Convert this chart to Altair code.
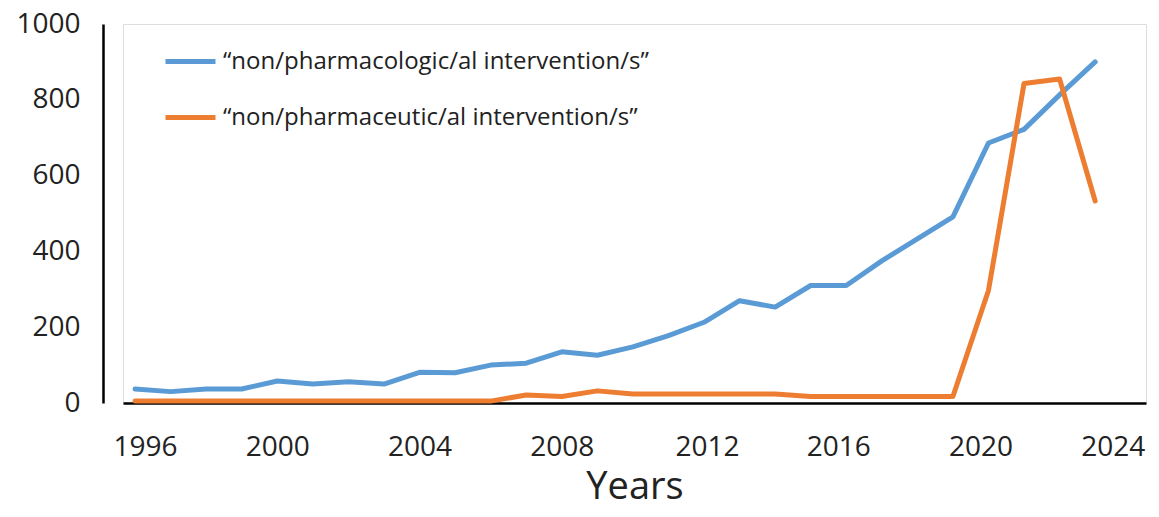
import altair as alt
import pandas as pd

years = list(range(1996, 2024))
pharmacologic = [37, 30, 37, 37, 58, 50, 56, 50, 81, 80, 100, 105, 135, 126, 148, 178,
                 213, 270, 253, 310, 310, 375, 433, 491, 686, 722, 813, 900]
pharmaceutic = [5, 5, 5, 5, 5, 5, 5, 5, 5, 5, 5, 21, 17, 32, 24, 24,
                24, 24, 24, 17, 17, 17, 17, 17, 297, 843, 855, 533]

s1 = "\u201cnon/pharmacologic/al intervention/s\u201d"
s2 = "\u201cnon/pharmaceutic/al intervention/s\u201d"
series_names = [s1, s2]
colors = ["#5B9BD5", "#ED7D31"]
x_ticks = [1996, 2000, 2004, 2008, 2012, 2016, 2020, 2024]
y_ticks = [0, 200, 400, 600, 800, 1000]

rows = []
for name, vals in zip(series_names, [pharmacologic, pharmaceutic]):
    for y, v in zip(years, vals):
        rows.append({"Year": y, "Count": v, "Series": name})
df = pd.DataFrame(rows)

font = "Open Sans"

label_shift = alt.ExprRef(
    "datum.value == 1996 ? 10 : datum.value == 2012 ? 3 : datum.value == 2016 ? -8 : "
    "datum.value == 2020 ? -8 : datum.value == 2024 ? -18 : 0"
)

chart = alt.Chart(df).mark_line(strokeWidth=5, strokeJoin="round", strokeCap="round").encode(
    x=alt.X("Year:Q",
            scale=alt.Scale(domain=[1995.66, 2024.43], nice=False, zero=False),
            axis=alt.Axis(values=x_ticks, format="d", title="Years", grid=False,
                          ticks=False, tickSize=0, domainColor="black", domainWidth=2.5,
                          labelFont=font, labelFontSize=28, labelColor="#222",
                          labelPadding=30, labelFlush=False, labelOverlap=False,
                          labelOffset=label_shift,
                          titleFont=font, titleFontSize=38, titleFontWeight="normal",
                          titleColor="#222", titlePadding=7)),
    y=alt.Y("Count:Q",
            scale=alt.Scale(domain=[0, 1000], nice=False),
            axis=alt.Axis(values=y_ticks, format="d", title=None, grid=False, ticks=False,
                          tickSize=0, domainColor="black", domainWidth=2.5, offset=20,
                          labelFont=font, labelFontSize=28, labelColor="#222",
                          labelPadding=23)),
    color=alt.Color("Series:N",
                    scale=alt.Scale(domain=series_names, range=colors),
                    sort=series_names,
                    legend=alt.Legend(title=None, orient="none", legendX=40, legendY=10,
                                      symbolType="stroke", symbolSize=2500,
                                      symbolStrokeWidth=5, labelFont=font,
                                      labelFontSize=24, labelColor="#222",
                                      labelOffset=5, labelLimit=800, rowPadding=16,
                                      padding=0)),
    order=alt.Order("Year:Q"),
).properties(
    width=1023, height=379,
    autosize=alt.AutoSizeParams(type="none"),
    padding={"left": 115, "top": 16, "right": 5, "bottom": 106},
).configure_view(stroke=None).configure(background="white")

chart.save("out.html", embed_options={"renderer": "svg", "actions": False})
